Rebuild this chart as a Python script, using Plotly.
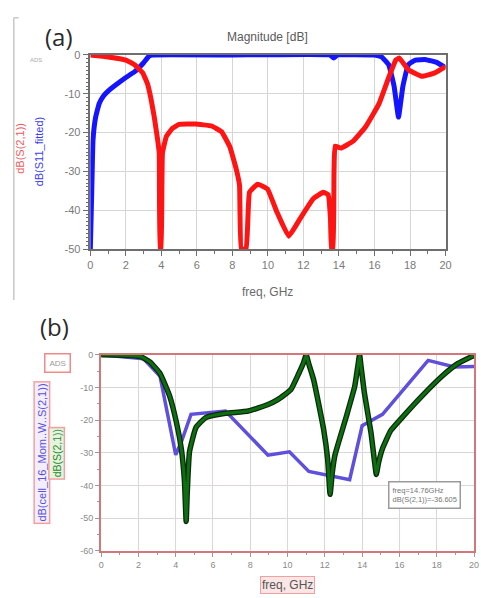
import plotly.graph_objects as go

W, H = 481, 598

# ---- Panel (a): filter response, Magnitude [dB] ----
s11_freq = [0, 0.08, 0.15, 0.3, 0.5, 0.75, 1.0, 1.5, 2.0, 2.5, 3.0, 3.3, 3.5, 8.0, 13.5,
            13.7, 13.9, 16.0, 16.4, 16.8, 17.1, 17.35, 17.6, 17.9, 18.3, 18.9, 19.5, 20.0]
s11_db = [-50, -35, -22, -16, -12.5, -10.5, -9.3, -7.5, -5.8, -4.3, -2.0, -0.3, 0, 0, 0,
          -0.8, 0, 0, -0.5, -2.5, -8, -16, -8, -2.5, -1.3, -1.2, -1.9, -3.3]

s21_freq = [0, 1.0, 2.0, 2.49, 2.95, 3.23, 3.42, 3.6, 3.79, 3.88, 3.93, 3.98, 4.06, 4.28,
            4.62, 4.99, 5.91, 6.83, 7.39, 7.85, 8.22, 8.4, 8.5, 8.77, 8.96, 9.42, 9.97,
            10.5, 11.17, 11.82, 12.56, 13.11, 13.39, 13.52, 13.58, 13.66, 13.72, 13.78,
            14.1, 14.8, 15.5, 16.25, 16.8, 17.2, 17.4, 17.9, 18.65, 19.4, 20.0]
s21_db = [0, -0.5, -1.3, -2.5, -4.6, -7.6, -11.4, -16, -21.9, -25.3, -50, -50, -25.3, -21,
          -18.9, -17.9, -17.8, -18.3, -19.8, -23.6, -29.5, -33.6, -50, -50, -35.4, -33.3, -34.5,
          -40.4, -46.7, -42.1, -37, -35.4, -36, -42, -50, -50, -30, -23.5,
          -24, -22.2, -18.5, -12.6, -5.8, -1.3, -0.8, -3.8, -5.5, -4.6, -3.0]

# ---- Panel (b): simulated vs. EM (Momentum) response ----
mom_freq = [0, 2.28, 3.16, 4.0, 4.3, 4.82, 6.67, 8.95, 10.1, 11.14, 13.33, 14.0, 15.09,
            17.54, 18.95, 20.0]
mom_db = [0, -1.2, -6.6, -30.6, -26.7, -18.2, -17.2, -30.7, -29.7, -35.7, -38.2, -21.7,
          -18.2, -1.7, -3.7, -3.6]

sim_freq = [0, 1.0, 2.1, 2.63, 3.16, 3.68, 4.04, 4.3, 4.47, 4.56, 4.62, 4.74, 5.09, 5.61,
            6.67, 7.9, 8.95, 9.47, 10.17, 10.6, 10.85, 11.0, 11.15, 11.4, 11.93, 12.15,
            12.28, 12.4, 12.54, 13.16, 13.6, 13.78, 13.86, 13.95, 14.12, 14.47, 14.66,
            14.76, 14.88, 15.09, 15.53, 16.14, 17.19, 18.25, 19.12, 20.0]
sim_db = [0, -0.1, -0.5, -2.2, -5.7, -12.7, -20.7, -28.7, -38.7, -51, -42, -29.7, -22.2,
          -19.2, -17.9, -17.2, -15.2, -13.7, -10.7, -5.7, -2.5, 0, -3, -7.7, -22.7, -32,
          -42.7, -36, -30.7, -18.7, -9.7, -3, 0, -4, -11.7, -23.7, -32.5,
          -36.6, -33, -28.7, -23.2, -19.2, -12.7, -6.7, -2.7, -0.2]

freq_ticks = [0, 2, 4, 6, 8, 10, 12, 14, 16, 18, 20]
freq_labels = ["0", "2", "4", "6", "8", "10", "12", "14", "16", "18", "20"]
db_ticks_a = [0, -10, -20, -30, -40, -50]
db_labels_a = ["0", "-10", "-20", "-30", "-40", "-50"]
db_ticks_b = [0, -10, -20, -30, -40, -50, -60]
db_labels_b = ["0", "-10", "-20", "-30", "-40", "-50", "-60"]


def px(x):
    return x / W


def py(y):
    return 1 - y / H


fig = go.Figure()

fig.add_trace(go.Scatter(x=s11_freq, y=s11_db, mode="lines",
                         line=dict(color="#1414ff", width=5, shape="spline", smoothing=0.3),
                         xaxis="x", yaxis="y", showlegend=False))
fig.add_trace(go.Scatter(x=s21_freq, y=s21_db, mode="lines",
                         line=dict(color="#ff1414", width=5, shape="spline", smoothing=0.3),
                         xaxis="x", yaxis="y", showlegend=False))

fig.add_trace(go.Scatter(x=mom_freq, y=mom_db, mode="lines",
                         line=dict(color="#5f50dc", width=3.5), xaxis="x2", yaxis="y2",
                         showlegend=False))
# dark outline under the green curve
fig.add_trace(go.Scatter(x=sim_freq, y=sim_db, mode="lines",
                         line=dict(color="#0c2a0c", width=5.5, shape="spline", smoothing=0.4),
                         xaxis="x2", yaxis="y2", showlegend=False))
fig.add_trace(go.Scatter(x=sim_freq, y=sim_db, mode="lines",
                         line=dict(color="#0d6e12", width=3, shape="spline", smoothing=0.4),
                         xaxis="x2", yaxis="y2", showlegend=False))

tickfont = dict(family="Liberation Sans, Arial, sans-serif", size=11, color="#7a7a7a")
tickfont_b = dict(family="Liberation Sans, Arial, sans-serif", size=9, color="#8a8a8a")

fig.update_layout(
    width=W, height=H,
    margin=dict(l=0, r=0, t=0, b=0),
    paper_bgcolor="white", plot_bgcolor="white",
    xaxis=dict(domain=[px(89), px(451)], anchor="y", range=[0, 20],
               tickvals=freq_ticks, ticktext=freq_labels, tickfont=tickfont,
               showgrid=True, gridcolor="#d6d6d6", gridwidth=1,
               showline=True, linecolor="#6e6e6e", linewidth=1.5, mirror=True,
               ticks="outside", ticklen=5, tickcolor="#6e6e6e", zeroline=False,
               minor=dict(dtick=1, ticks="outside", ticklen=3, tickcolor="#6e6e6e",
                          showgrid=False)),
    yaxis=dict(domain=[py(248), py(50)], anchor="x", range=[-50, 0],
               tickvals=db_ticks_a, ticktext=db_labels_a, tickfont=tickfont,
               showgrid=True, gridcolor="#d6d6d6", gridwidth=1,
               showline=True, linecolor="#6e6e6e", linewidth=1.5, mirror=True,
               ticks="outside", ticklen=6, tickcolor="#6e6e6e", zeroline=False,
               minor=dict(dtick=1, ticks="outside", ticklen=3, tickcolor="#6e6e6e",
                          showgrid=False)),
    xaxis2=dict(domain=[px(100), px(480)], anchor="y2", range=[0, 20],
                tickvals=freq_ticks, ticktext=freq_labels, tickfont=tickfont_b,
                showgrid=True, gridcolor="#ddd6d6", gridwidth=1,
                showline=True, linecolor="#d27878", linewidth=2, mirror=True,
                ticks="outside", ticklen=4, tickcolor="#9a9a9a", zeroline=False,
                minor=dict(dtick=1, ticks="outside", ticklen=2, tickcolor="#9a9a9a",
                           showgrid=False)),
    yaxis2=dict(domain=[py(556), py(356)], anchor="x2", range=[-60, 0],
                tickvals=db_ticks_b, ticktext=db_labels_b, tickfont=tickfont_b,
                showgrid=True, gridcolor="#ddd6d6", gridwidth=1,
                showline=True, linecolor="#d27878", linewidth=2, mirror=True,
                ticks="outside", ticklen=4, tickcolor="#9a9a9a", zeroline=False,
                minor=dict(dtick=5, ticks="outside", ticklen=2, tickcolor="#9a9a9a",
                           showgrid=False)),
)


def label(x, y, text, **kw):
    d = dict(x=px(x), y=py(y), text=text, showarrow=False, xref="paper", yref="paper",
             xanchor="center", yanchor="middle")
    d.update(kw)
    return d


sans = "Liberation Sans, Arial, sans-serif"
ann = [
    # panel labels
    label(57, 31, "(a)", font=dict(family="Open Sans, sans-serif", size=24, color="#2a2a2a")),
    label(52, 327, "(b)", font=dict(family="Open Sans, sans-serif", size=24, color="#2a2a2a")),
    # panel (a)
    label(270, 32, "Magnitude [dB]", font=dict(family=sans, size=12, color="#5a5a5a")),
    label(270, 292, "freq, GHz", font=dict(family=sans, size=12, color="#6a6a6a")),
    label(34, 55, "ADS", font=dict(family=sans, size=6, color="#aaaaaa")),
    label(17, 145, "dB(S(2,1))", textangle=-90,
          font=dict(family=sans, size=11, color="#f05a5a")),
    label(37, 148, "dB(S11_fitted)", textangle=-90,
          font=dict(family=sans, size=11, color="#3c3cf0")),
    # panel (b)
    label(56, 364, "ADS", bordercolor="#f08a8a", borderwidth=1.5, borderpad=4,
          font=dict(family=sans, size=8, color="#9a9a9a")),
    label(40, 456, "dB(cell_16_Mom..W..S(2,1))", textangle=-90,
          bordercolor="#f5a0a0", borderwidth=1.5, borderpad=1, bgcolor="#f2eefc",
          font=dict(family=sans, size=11, color="#5a50dc")),
    label(55, 456, "dB(S(2,1))", textangle=-90,
          bordercolor="#f5a0a0", borderwidth=1.5, borderpad=1, bgcolor="#e4f4e0",
          font=dict(family=sans, size=10.5, color="#2a8a2a")),
    label(290, 591, "freq, GHz", bordercolor="#f0a0a0", borderwidth=1, borderpad=1,
          bgcolor="#fbe6e6", font=dict(family=sans, size=12, color="#555555")),
    label(430, 499, "freq=14.76GHz<br>dB(S(2,1))=-36.605", align="left",
          bordercolor="#9a9a9a", borderwidth=1.5, borderpad=3, bgcolor="white",
          font=dict(family=sans, size=7.5, color="#777777")),
]
fig.update_layout(annotations=ann)

# thin frame around panel (a)
fig.add_shape(type="line", xref="paper", yref="paper", x0=px(11), x1=px(11),
              y0=py(12), y1=py(300), line=dict(color="#c8c8c8", width=1.5))
fig.add_shape(type="line", xref="paper", yref="paper", x0=px(11), x1=px(16),
              y0=py(12), y1=py(12), line=dict(color="#c8c8c8", width=1.5))

fig.write_html("out.html")
